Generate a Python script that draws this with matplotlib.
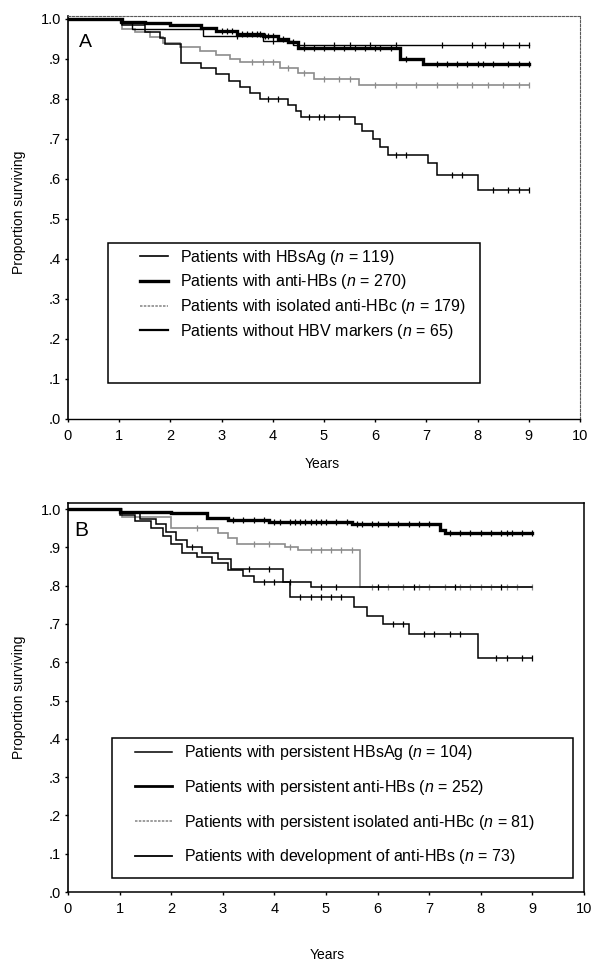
import numpy as np
import matplotlib
matplotlib.use('Agg')
import matplotlib.pyplot as plt
from matplotlib.patches import Rectangle
from matplotlib.lines import Line2D

plt.rcParams['font.family'] = ['Liberation Sans', 'DejaVu Sans']
plt.rcParams['mathtext.fontset'] = 'custom'
plt.rcParams['mathtext.it'] = 'Liberation Sans:italic'
plt.rcParams['mathtext.rm'] = 'Liberation Sans'

# ---------------- data ----------------
x_ticks = [0, 1, 2, 3, 4, 5, 6, 7, 8, 9, 10]
y_ticks = [0.0, 0.1, 0.2, 0.3, 0.4, 0.5, 0.6, 0.7, 0.8, 0.9, 1.0]
y_tick_labels = ['.0', '.1', '.2', '.3', '.4', '.5', '.6', '.7', '.8', '.9', '1.0']

# Panel A
a_labels = ['Patients with HBsAg ($n$ = 119)',
            'Patients with anti-HBs ($n$ = 270)',
            'Patients with isolated anti-HBc ($n$ = 179)',
            'Patients without HBV markers ($n$ = 65)']

a_hbsag_t = [0, 1.02, 1.25, 2.64, 3.81, 4.4, 9.0]
a_hbsag_s = [1.0, 0.99, 0.975, 0.957, 0.945, 0.935, 0.935]
a_hbsag_c = [3.3, 4.0, 4.6, 5.2, 5.5, 5.9, 6.4, 7.3, 7.9, 8.15, 8.5, 8.8, 9.0]

a_antihbs_t = [0, 1.05, 1.5, 2.0, 2.6, 2.9, 3.3, 3.8, 4.1, 4.3, 4.5, 6.48, 6.94, 9.0]
a_antihbs_s = [1.0, 0.993, 0.989, 0.985, 0.978, 0.97, 0.963, 0.957, 0.95, 0.942, 0.928, 0.90, 0.888, 0.888]
a_antihbs_c = [3.0, 3.1, 3.2, 3.3, 3.4, 3.5, 3.6, 3.7, 3.75, 3.85, 3.9, 4.0, 4.2, 4.4,
               4.6, 4.8, 5.0, 5.2, 5.4, 5.6, 5.8, 6.0, 6.1, 6.3, 6.6, 7.2, 7.4, 7.6,
               7.8, 8.0, 8.1, 8.3, 8.6, 8.8, 9.0]

a_isol_t = [0, 1.05, 1.3, 1.6, 1.86, 2.19, 2.58, 2.9, 3.16, 3.36, 4.15, 4.5, 4.8, 5.68, 9.0]
a_isol_s = [1.0, 0.975, 0.968, 0.955, 0.94, 0.93, 0.92, 0.91, 0.90, 0.893, 0.877, 0.866, 0.851, 0.835, 0.835]
a_isol_c = [3.6, 3.8, 4.0, 4.3, 4.6, 5.0, 5.3, 5.5, 6.0, 6.4, 6.8, 7.2, 7.6, 7.9, 8.2, 8.5, 8.8, 9.0]

a_none_t = [0, 1.05, 1.5, 1.8, 1.9, 2.2, 2.6, 2.9, 3.15, 3.35, 3.55, 3.75, 4.3, 4.45, 4.55,
            5.6, 5.75, 5.95, 6.1, 6.25, 7.03, 7.2, 8.0, 9.0]
a_none_s = [1.0, 0.985, 0.967, 0.952, 0.938, 0.89, 0.877, 0.862, 0.846, 0.831, 0.815, 0.80, 0.785,
            0.77, 0.755, 0.738, 0.72, 0.70, 0.68, 0.66, 0.64, 0.61, 0.573, 0.573]
a_none_c = [3.9, 4.1, 4.7, 4.9, 5.0, 5.3, 6.4, 6.6, 7.5, 7.7, 8.3, 8.6, 8.8, 9.0]

# Panel B
b_labels = ['Patients with persistent HBsAg ($n$ = 104)',
            'Patients with persistent anti-HBs ($n$ = 252)',
            'Patients with persistent isolated anti-HBc ($n$ = 81)',
            'Patients with development of anti-HBs ($n$ = 73)']

b_hbsag_t = [0, 1.0, 1.4, 1.7, 1.9, 2.1, 2.3, 2.6, 2.9, 3.15, 4.17, 4.3, 5.55, 5.8, 6.1, 6.6, 7.95, 9.0]
b_hbsag_s = [1.0, 0.99, 0.975, 0.96, 0.94, 0.92, 0.90, 0.885, 0.87, 0.843, 0.81, 0.771, 0.745,
             0.72, 0.70, 0.675, 0.61, 0.61]
b_hbsag_c = [2.4, 3.5, 3.9, 4.5, 4.7, 4.9, 5.1, 5.3, 6.3, 6.5, 6.9, 7.1, 7.4, 7.6, 8.3, 8.5, 8.8, 9.0]

b_antihbs_t = [0, 1.0, 2.0, 2.7, 3.1, 3.9, 5.5, 7.2, 7.3, 9.0]
b_antihbs_s = [1.0, 0.993, 0.989, 0.976, 0.971, 0.966, 0.962, 0.945, 0.938, 0.938]
b_antihbs_c = [3.2, 3.4, 3.6, 3.8, 4.0, 4.1, 4.3, 4.4, 4.5, 4.6, 4.7, 4.8, 4.9, 5.0, 5.2, 5.4,
               5.6, 5.7, 5.9, 6.0, 6.2, 6.4, 6.6, 6.8, 7.0, 7.4, 7.6, 7.8, 8.0, 8.2, 8.4,
               8.5, 8.6, 8.8, 9.0]

b_isol_t = [0, 1.05, 2.0, 2.9, 3.1, 3.27, 4.2, 4.45, 5.66, 9.0]
b_isol_s = [1.0, 0.98, 0.95, 0.937, 0.925, 0.91, 0.90, 0.893, 0.797, 0.797]
b_isol_c = [2.5, 3.6, 3.9, 4.3, 4.7, 4.9, 5.1, 5.3, 5.5, 5.9, 6.2, 6.5, 6.8, 7.0, 7.3, 7.6,
            7.8, 8.0, 8.2, 8.5, 8.7, 9.0]

b_dev_t = [0, 1.0, 1.3, 1.6, 1.85, 2.0, 2.2, 2.5, 2.8, 3.1, 3.4, 3.6, 4.7, 9.0]
b_dev_s = [1.0, 0.985, 0.97, 0.95, 0.93, 0.91, 0.885, 0.875, 0.86, 0.84, 0.825, 0.81, 0.797, 0.797]
b_dev_c = [3.8, 4.0, 4.3, 4.9, 5.2, 6.0, 6.7, 7.5, 8.4]

# ---------------- figure ----------------
W, H = 591, 964
fig = plt.figure(figsize=(W / 100, H / 100), dpi=100)


def px_axes(x0, y0, x1, y1):
    return fig.add_axes([x0 / W, 1 - y1 / H, (x1 - x0) / W, (y1 - y0) / H])


def step_at(t, s, c):
    t = np.asarray(t)
    s = np.asarray(s)
    idx = np.searchsorted(t, np.asarray(c), side='right') - 1
    return s[idx]


def km(ax, t, s, c, color, lw, z):
    ax.plot(t, s, drawstyle='steps-post', color=color, lw=lw, zorder=z,
            solid_joinstyle='miter')
    ax.plot(c, step_at(t, s, c), ls='none', marker='|', ms=5, mew=0.9,
            color=color, zorder=z)


def style_axes(ax, ytop, solid):
    ax.set_xlim(0, 10)
    ax.set_ylim(0, ytop)
    ax.set_xticks(x_ticks)
    ax.set_yticks(y_ticks)
    ax.set_yticklabels(y_tick_labels)
    ax.tick_params(direction='out', length=2, width=1, labelsize=10.5, pad=3)
    ax.tick_params(axis='x', pad=5)
    ax.spines['left'].set_linewidth(1.2)
    if solid:
        for k in ['top', 'right', 'bottom']:
            ax.spines[k].set_linewidth(1.1)
    else:
        ax.spines['bottom'].set_linewidth(1.0)
        ax.spines['bottom'].set_linestyle((0, (3, 1)))
        for k in ['top', 'right']:
            ax.spines[k].set_linewidth(0.8)
            ax.spines[k].set_linestyle((0, (2, 1.5)))
            ax.spines[k].set_color('0.35')


def legend_box(ax, rect, handles, labels, anchor, hlen, hpad, lspace):
    x0, y0, x1, y1 = rect
    ax.add_patch(Rectangle((x0, y0), x1 - x0, y1 - y0, transform=ax.transAxes,
                           facecolor='white', edgecolor='black', lw=1.1, zorder=5))
    leg = ax.legend(handles, labels, loc='upper left', bbox_to_anchor=anchor,
                    frameon=False, borderpad=0, borderaxespad=0, handlelength=hlen,
                    handletextpad=hpad, labelspacing=lspace, fontsize=11.5)
    leg.set_zorder(6)


gray = '0.55'

# Panel A
axA = px_axes(68, 16, 580, 419)
style_axes(axA, 1.0075, solid=False)
km(axA, a_isol_t, a_isol_s, a_isol_c, gray, 1.2, 2)
km(axA, a_none_t, a_none_s, a_none_c, 'black', 1.1, 3)
km(axA, a_hbsag_t, a_hbsag_s, a_hbsag_c, 'black', 1.0, 3)
km(axA, a_antihbs_t, a_antihbs_s, a_antihbs_c, 'black', 2.4, 4)
axA.text(0.022, 0.955, 'A', transform=axA.transAxes, fontsize=14, va='top', ha='left')
hA = [Line2D([], [], color='black', lw=1.2),
      Line2D([], [], color='black', lw=2.4),
      Line2D([], [], color=gray, lw=1.2, ls=(0, (1.5, 0.8))),
      Line2D([], [], color='black', lw=1.6)]
legend_box(axA, (0.078, 0.0893, 0.805, 0.4367), hA, a_labels,
           (0.1406, 0.425), 1.75, 0.75, 0.36)

# Panel B
axB = px_axes(68, 503, 584, 892)
style_axes(axB, 1.016, solid=True)
km(axB, b_isol_t, b_isol_s, b_isol_c, gray, 1.2, 2)
km(axB, b_dev_t, b_dev_s, b_dev_c, 'black', 1.1, 3)
km(axB, b_hbsag_t, b_hbsag_s, b_hbsag_c, 'black', 1.1, 3)
km(axB, b_antihbs_t, b_antihbs_s, b_antihbs_c, 'black', 2.4, 4)
axB.text(0.012, 0.955, 'B', transform=axB.transAxes, fontsize=15, va='top', ha='left')
hB = [Line2D([], [], color='black', lw=1.1),
      Line2D([], [], color='black', lw=2.0),
      Line2D([], [], color=gray, lw=1.2, ls=(0, (1.5, 0.8))),
      Line2D([], [], color='black', lw=1.3)]
legend_box(axB, (0.0853, 0.036, 0.9787, 0.3959), hB, b_labels,
           (0.1298, 0.382), 2.3, 0.8, 0.98)

# axis labels
fig.text(19 / W, 1 - 212 / H, 'Proportion surviving', rotation=90, ha='center', va='center', fontsize=10)
fig.text(19 / W, 1 - 697 / H, 'Proportion surviving', rotation=90, ha='center', va='center', fontsize=10)
fig.text(322 / W, 1 - 464 / H, 'Years', ha='center', va='center', fontsize=10)
fig.text(327 / W, 1 - 955 / H, 'Years', ha='center', va='center', fontsize=10)

fig.savefig('out.png', dpi=100)
